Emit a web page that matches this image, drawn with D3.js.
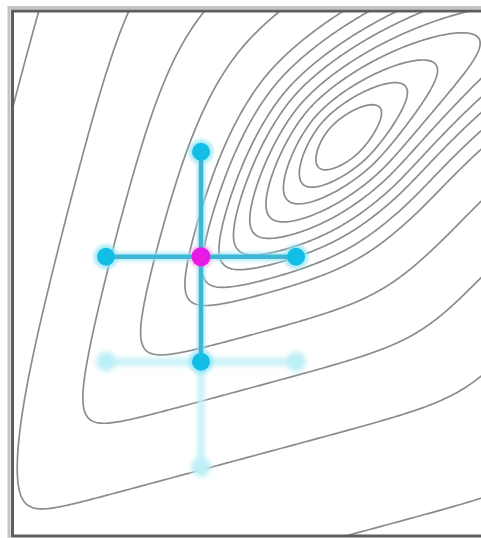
<!DOCTYPE html>
<html><head><meta charset="utf-8">
<script src="https://cdn.jsdelivr.net/npm/d3@7"></script>
<style>body{margin:0;background:#fff;} svg{display:block}</style>
</head><body>
<svg id="c" width="481" height="538"></svg>
<script>
// ---- data ----
const optimum = [1.505, 1.0857];
const contourLevels = [0.156,0.224,0.288,0.36,0.43,0.505,0.576,0.665,0.76,1.03,1.42,1.93,2.71];
const P = {theta:48, bend:0.1, A:1.5, B:0.82, z0:0.45, g:0.6, c1:0.6, q2:0.77, c2:0.215, s:0.15, n1:[-0.97,0.25], n2:[0.26,-0.965]};
const currentPoint = {x:0, y:0};
const pollPoints = [{x:0,y:1},{x:-1,y:0},{x:1,y:0},{x:0,y:-1}];
const previousCenter = {x:0, y:-1};
const previousPoll = [{x:-1,y:-1},{x:1,y:-1},{x:0,y:-2}];

const xScale = d3.scaleLinear().domain([-2,3]).range([11,486]);
const yScale = d3.scaleLinear().domain([-2.65,2.35]).range([535,10]);

const th = P.theta*Math.PI/180, ct=Math.cos(th), st=Math.sin(th);
function F(x,y){
  const X=(x-optimum[0])*0.95, Y=(y-optimum[1])*1.05;
  const u0=X*ct+Y*st, v0=-X*st+Y*ct+P.bend*u0*u0;
  const u=u0/P.A, v=v0/P.B;
  const psi=u/Math.sqrt(1+Math.abs(u)/P.z0);
  const E=Math.sqrt(psi*psi+v*v);
  const e0=P.g*E, e1=P.n1[0]*X+P.n1[1]*Y-P.c1, e2=P.q2*(P.n2[0]*X+P.n2[1]*Y)-P.c2;
  const mx=Math.max(e0,e1,e2);
  return mx+P.s*Math.log(Math.exp((e0-mx)/P.s)+Math.exp((e1-mx)/P.s)+Math.exp((e2-mx)/P.s));
}

const svg=d3.select('#c');
const defs=svg.append('defs');
defs.append('clipPath').attr('id','clip').append('rect').attr('x',13).attr('y',12).attr('width',480).attr('height',523);
defs.append('filter').attr('id','blur').attr('x','-50%').attr('y','-50%').attr('width','200%').attr('height','200%')
  .append('feGaussianBlur').attr('stdDeviation',2.5);
defs.append('filter').attr('id','soft').attr('x','-50%').attr('y','-50%').attr('width','200%').attr('height','200%')
  .append('feGaussianBlur').attr('stdDeviation',1.5);

// contours of the objective
const x0=-2.3,x1=3.3,y0=2.65,y1=-2.95, nx=300, ny=300;
const gdx=(x1-x0)/(nx-1), gdy=(y1-y0)/(ny-1);
const vals=new Array(nx*ny);
for(let j=0;j<ny;j++)for(let i=0;i<nx;i++)vals[j*nx+i]=F(x0+i*gdx,y0+j*gdy);
const contours=d3.contours().size([nx,ny]).thresholds(contourLevels)(vals);
const proj=d3.geoTransform({point(px,py){this.stream.point(xScale(x0+(px-0.5)*gdx),yScale(y0+(py-0.5)*gdy));}});
const path=d3.geoPath(proj);
svg.append('g').attr('clip-path','url(#clip)').selectAll('path').data(contours).join('path')
 .attr('d',path).attr('fill','none').attr('stroke','#8c8c8c').attr('stroke-width',1.7);

// previous (faded) poll step
const fg=svg.append('g').attr('filter','url(#blur)');
fg.selectAll('line').data(previousPoll).join('line')
  .attr('x1',xScale(previousCenter.x)).attr('y1',yScale(previousCenter.y))
  .attr('x2',d=>xScale(d.x)).attr('y2',d=>yScale(d.y))
  .attr('stroke','#c4f1f8').attr('stroke-width',7);
fg.selectAll('circle').data(previousPoll).join('circle')
  .attr('cx',d=>xScale(d.x)).attr('cy',d=>yScale(d.y)).attr('r',10).attr('fill','#bdeff6');

// current poll step: halo
const hg=svg.append('g').attr('filter','url(#soft)').attr('opacity',0.7);
hg.selectAll('line').data(pollPoints).join('line')
  .attr('x1',xScale(currentPoint.x)).attr('y1',yScale(currentPoint.y))
  .attr('x2',d=>xScale(d.x)).attr('y2',d=>yScale(d.y))
  .attr('stroke','#9be6f6').attr('stroke-width',9);
hg.selectAll('circle').data(pollPoints).join('circle')
  .attr('cx',d=>xScale(d.x)).attr('cy',d=>yScale(d.y)).attr('r',12.5).attr('fill','#8fe4f7');
hg.append('circle').attr('cx',xScale(currentPoint.x)).attr('cy',yScale(currentPoint.y)).attr('r',12).attr('fill','#f2b0f2');

// current poll step: core
const cg=svg.append('g');
cg.selectAll('line').data(pollPoints).join('line')
  .attr('x1',xScale(currentPoint.x)).attr('y1',yScale(currentPoint.y))
  .attr('x2',d=>xScale(d.x)).attr('y2',d=>yScale(d.y))
  .attr('stroke','#3fb6d3').attr('stroke-width',4.5);
cg.selectAll('circle').data(pollPoints).join('circle')
  .attr('cx',d=>xScale(d.x)).attr('cy',d=>yScale(d.y)).attr('r',9).attr('fill','#12bde6');
cg.append('circle').attr('cx',xScale(currentPoint.x)).attr('cy',yScale(currentPoint.y)).attr('r',9.5).attr('fill','#e81ae6');

// frame
svg.append('rect').attr('x',9).attr('y',7.5).attr('width',500).attr('height',540).attr('fill','none').attr('stroke','#c4c4c4').attr('stroke-width',3);
svg.append('rect').attr('x',12.5).attr('y',11).attr('width',500).attr('height',525).attr('fill','none').attr('stroke','#5e5e5e').attr('stroke-width',3);
</script>
</body></html>
